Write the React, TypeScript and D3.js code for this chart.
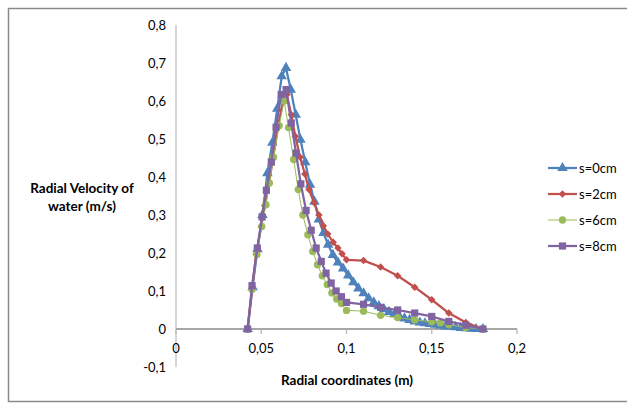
import React from "react";
import * as d3 from "d3";

const xTicks = [0, 0.05, 0.1, 0.15, 0.2];
const yTicks = [-0.1, 0, 0.1, 0.2, 0.3, 0.4, 0.5, 0.6, 0.7, 0.8];

const s0X = [0.042, 0.0449, 0.0478, 0.0507, 0.0536, 0.0565, 0.0594, 0.0620, 0.0645, 0.0673, 0.0702, 0.0730, 0.0758, 0.0786, 0.0812, 0.0838, 0.0865, 0.0892, 0.092, 0.095, 0.098, 0.101, 0.104, 0.107, 0.11, 0.113, 0.116, 0.119, 0.122, 0.125, 0.128, 0.131, 0.134, 0.137, 0.14, 0.143, 0.146, 0.149, 0.152, 0.155, 0.158, 0.161, 0.164, 0.167, 0.17, 0.173, 0.176, 0.18];
const s0Y = [0, 0.11, 0.21, 0.3, 0.41, 0.49, 0.58, 0.665, 0.687, 0.63, 0.564, 0.498, 0.439, 0.38, 0.335, 0.288, 0.253, 0.222, 0.195, 0.175, 0.159, 0.141, 0.123, 0.107, 0.094, 0.081, 0.07, 0.06, 0.052, 0.045, 0.039, 0.033, 0.028, 0.024, 0.02, 0.017, 0.015, 0.013, 0.011, 0.009, 0.007, 0.006, 0.005, 0.003, 0.002, 0.001, 0, 0];

const s2X = [0.042, 0.0446, 0.047, 0.05, 0.052, 0.0545, 0.057, 0.0599, 0.0628, 0.065, 0.0676, 0.07, 0.0728, 0.0756, 0.078, 0.081, 0.0838, 0.0864, 0.089, 0.0922, 0.095, 0.0974, 0.1, 0.11, 0.12, 0.13, 0.14, 0.15, 0.16, 0.17, 0.18];
const s2Y = [0, 0.104, 0.197, 0.27, 0.325, 0.384, 0.452, 0.535, 0.6, 0.617, 0.564, 0.507, 0.452, 0.408, 0.367, 0.332, 0.3, 0.272, 0.25, 0.228, 0.213, 0.198, 0.182, 0.18, 0.163, 0.14, 0.11, 0.077, 0.042, 0.017, 0];

const s6X = [0.042, 0.0446, 0.0475, 0.0503, 0.0528, 0.0548, 0.0572, 0.0605, 0.0634, 0.066, 0.069, 0.0717, 0.0744, 0.0773, 0.0802, 0.083, 0.0858, 0.0887, 0.0914, 0.0942, 0.097, 0.1, 0.11, 0.12, 0.13, 0.14, 0.15, 0.155, 0.16, 0.17, 0.18];
const s6Y = [0, 0.104, 0.196, 0.27, 0.327, 0.384, 0.452, 0.535, 0.6, 0.53, 0.446, 0.367, 0.3, 0.248, 0.204, 0.169, 0.14, 0.117, 0.095, 0.079, 0.067, 0.049, 0.047, 0.036, 0.03, 0.024, 0.019, 0.016, 0.011, 0.004, 0];

const s8X = [0.042, 0.0446, 0.0477, 0.0505, 0.053, 0.0559, 0.0587, 0.0617, 0.0646, 0.0676, 0.0704, 0.0732, 0.0763, 0.0793, 0.0822, 0.0852, 0.088, 0.091, 0.0939, 0.097, 0.1, 0.11, 0.12, 0.13, 0.14, 0.15, 0.16, 0.17, 0.18];
const s8Y = [0, 0.114, 0.213, 0.295, 0.365, 0.439, 0.531, 0.617, 0.63, 0.542, 0.463, 0.382, 0.312, 0.26, 0.213, 0.178, 0.147, 0.121, 0.1, 0.085, 0.07, 0.065, 0.057, 0.05, 0.042, 0.033, 0.02, 0.01, 0];

const seriesNames = ["s=0cm", "s=2cm", "s=6cm", "s=8cm"];
const seriesColors = ["#4F81BD", "#C0504D", "#9BBB59", "#8064A2"];

const FONT = "Lato, 'Open Sans', sans-serif";

export default function App() {
  const x = d3.scaleLinear().domain([0, 0.2]).range([176, 517]);
  const y = d3.scaleLinear().domain([-0.1, 0.8]).range([367, 25]);

  const series = [
    { xs: s0X, ys: s0Y, sym: d3.symbolTriangle, size: 48, rot: 0, lw: 2.25 },
    { xs: s2X, ys: s2Y, sym: d3.symbolSquare, size: 28, rot: 45, lw: 2.25 },
    { xs: s6X, ys: s6Y, sym: d3.symbolCircle, size: 42, rot: 0, lw: 1 },
    { xs: s8X, ys: s8Y, sym: d3.symbolSquare, size: 52, rot: 0, lw: 2.25 },
  ];

  const line = d3
    .line<[number, number]>()
    .x((d) => x(d[0]))
    .y((d) => y(d[1]));

  const legendY = [168, 194, 220, 246];

  return (
    <svg
      width={627}
      height={403}
      style={{ position: "absolute", left: 0, top: 0 }}
      fontFamily={FONT}
    >
      <rect x={0} y={0} width={627} height={403} fill="#fff" />
      <rect x={8.5} y={8.5} width={640} height={393} fill="none" stroke="#8a8a8a" strokeWidth={1.5} />

      <line x1={x(0)} x2={x(0)} y1={y(0.8)} y2={y(-0.1)} stroke="#c8c8c8" strokeWidth={1.5} />
      <line x1={x(0)} x2={x(0.2)} y1={y(0)} y2={y(0)} stroke="#8a8a8a" strokeWidth={1.5} />
      {xTicks.map((t) => (
        <line key={"xt" + t} x1={x(t)} x2={x(t)} y1={y(0)} y2={y(0) + 5} stroke="#bdbdbd" strokeWidth={1.5} />
      ))}
      {xTicks.map((t) => (
        <text key={"xl" + t} x={x(t)} y={y(0) + 24} textAnchor="middle" fontSize={13} fill="#000">
          {String(t).replace(".", ",")}
        </text>
      ))}
      {yTicks.map((t) => (
        <text key={"yl" + t} x={166} y={y(t) + 4.5} textAnchor="end" fontSize={13} fill="#000">
          {String(Math.round(t * 10) / 10).replace(".", ",")}
        </text>
      ))}

      {series.map((s, i) => {
        const pts = s.xs.map((v, j) => [v, s.ys[j]] as [number, number]);
        const sym = d3.symbol().type(s.sym).size(s.size)() as string;
        return (
          <g key={"s" + i}>
            <path d={line(pts) as string} fill="none" stroke={seriesColors[i]} strokeWidth={s.lw} strokeLinejoin="round" />
            {pts.map((p, j) => (
              <path
                key={j}
                d={sym}
                transform={`translate(${x(p[0])},${y(p[1])}) rotate(${s.rot})`}
                fill={seriesColors[i]}
              />
            ))}
          </g>
        );
      })}

      <text x={82} y={193} textAnchor="middle" fontSize={13.5} fontWeight="bold" fill="#000">
        Radial Velocity of
      </text>
      <text x={82} y={211} textAnchor="middle" fontSize={13.5} fontWeight="bold" fill="#000">
        water (m/s)
      </text>
      <text x={347} y={385} textAnchor="middle" fontSize={13.5} fontWeight="bold" fill="#000">
        Radial coordinates (m)
      </text>

      {seriesNames.map((n, i) => {
        const s = series[i];
        const sym = d3.symbol().type(s.sym).size(s.size)() as string;
        return (
          <g key={"lg" + i}>
            <line x1={548} x2={577} y1={legendY[i]} y2={legendY[i]} stroke={seriesColors[i]} strokeWidth={s.lw} />
            <path d={sym} transform={`translate(562.5,${legendY[i]}) rotate(${s.rot})`} fill={seriesColors[i]} />
            <text x={579} y={legendY[i] + 4.5} fontSize={13} fill="#000">
              {n}
            </text>
          </g>
        );
      })}
    </svg>
  );
}
